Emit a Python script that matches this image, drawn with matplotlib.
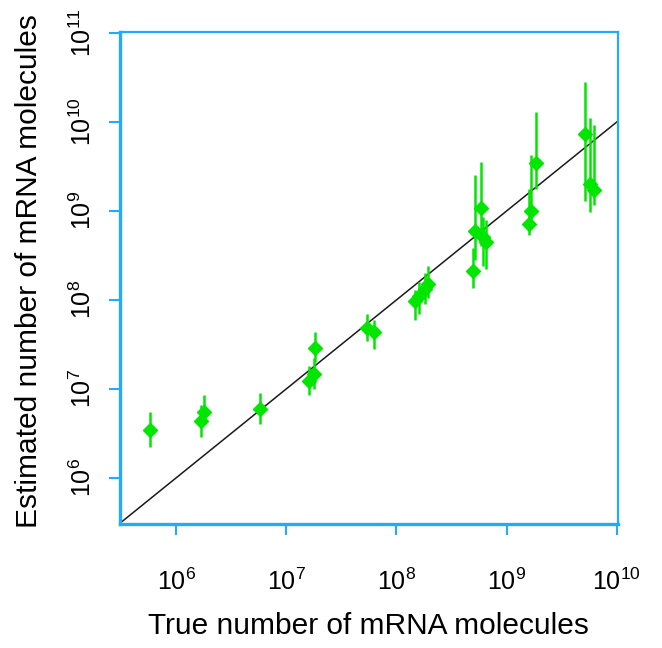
import numpy as np
import matplotlib
matplotlib.use("Agg")
import matplotlib.pyplot as plt
from matplotlib.ticker import NullLocator, FixedLocator

plt.rcParams["font.family"] = ["Liberation Sans", "DejaVu Sans"]
plt.rcParams["mathtext.fontset"] = "custom"
plt.rcParams["mathtext.rm"] = "Liberation Sans"
plt.rcParams["mathtext.it"] = "Liberation Sans:italic"

# true vs estimated mRNA counts, with lower/upper interval bounds
true_counts = [5.8e5, 1.68e6, 1.79e6, 5.75e6, 1.6e7, 1.78e7, 1.81e7, 5.4e7, 6.2e7,
               1.46e8, 1.6e8, 1.83e8, 1.95e8, 4.9e8, 5.2e8, 5.9e8, 6.1e8, 6.5e8,
               1.6e9, 1.67e9, 1.85e9, 5.1e9, 5.7e9, 6.2e9]
est_counts = [3.5e6, 4.4e6, 5.5e6, 6.0e6, 1.23e7, 1.48e7, 2.9e7, 4.9e7, 4.4e7,
              9.8e7, 1.1e8, 1.33e8, 1.5e8, 2.1e8, 6.0e8, 1.08e9, 5.1e8, 4.5e8,
              7.1e8, 1.0e9, 3.45e9, 7.3e9, 2.0e9, 1.72e9]
est_low = [2.2e6, 2.9e6, 4.0e6, 4.0e6, 8.5e6, 1.0e7, 2.0e7, 3.5e7, 2.8e7,
           6.0e7, 7.0e7, 9.0e7, 1.05e8, 1.35e8, 2.8e8, 4.0e8, 2.4e8, 2.2e8,
           5.4e8, 6.2e8, 1.75e9, 1.3e9, 9.8e8, 1.17e9]
est_high = [5.5e6, 6.6e6, 8.5e6, 9.0e6, 1.8e7, 2.2e7, 4.4e7, 7.0e7, 6.0e7,
            1.3e8, 1.6e8, 2.0e8, 2.4e8, 3.8e8, 2.5e9, 3.5e9, 8.5e8, 8.0e8,
            1.75e9, 4.3e9, 1.3e10, 2.8e10, 1.1e10, 9.3e9]

x_ticks = [1e6, 1e7, 1e8, 1e9, 1e10]
y_ticks = [1e6, 1e7, 1e8, 1e9, 1e10, 1e11]

frame_col = "#22AAFF"
point_col = "#00E600"

fig = plt.figure(figsize=(6.62, 6.48), dpi=100)
ax = fig.add_axes([0.181, 0.191, 0.7525, 0.7596])
ax.set_xscale("log")
ax.set_yscale("log")
ax.set_xlim(10 ** 5.49, 10 ** 10.01)
ax.set_ylim(10 ** 5.48, 10 ** 11.01)

# identity line
ax.plot([1e5, 1e11], [1e5, 1e11], color="#1a1a1a", lw=1.1, zorder=2)

ax.vlines(true_counts, est_low, est_high, color=point_col, lw=1.8, zorder=3)
ax.plot(true_counts, est_counts, linestyle="none", marker="D", ms=7.2,
        color=point_col, mec=point_col, zorder=4)

ax.xaxis.set_major_locator(FixedLocator(x_ticks))
ax.yaxis.set_major_locator(FixedLocator(y_ticks))
ax.xaxis.set_minor_locator(NullLocator())
ax.yaxis.set_minor_locator(NullLocator())
ax.set_xticklabels([r"$10^{%d}$" % int(np.log10(t)) for t in x_ticks])
ax.set_yticklabels([r"$10^{%d}$" % int(np.log10(t)) for t in y_ticks])

ax.tick_params(axis="both", which="major", direction="out", length=8, width=1.5,
               color=frame_col, labelsize=18, labelcolor="black")
ax.tick_params(axis="x", pad=24)
ax.tick_params(axis="y", pad=9, labelrotation=90)
for lbl in ax.get_yticklabels():
    lbl.set_va("center")

for side in ["top", "right"]:
    ax.spines[side].set_color(frame_col)
    ax.spines[side].set_linewidth(1.6)
for side in ["left", "bottom"]:
    ax.spines[side].set_color(frame_col)
    ax.spines[side].set_linewidth(2.4)

ax.set_xlabel("True number of mRNA molecules", fontsize=21.5, va="baseline")
ax.xaxis.set_label_coords(0.5, -0.223)
ax.set_ylabel("Estimated number of mRNA molecules", fontsize=21.5)
ax.yaxis.set_label_coords(-0.155, 0.515)

fig.savefig("out.png", dpi=100)
